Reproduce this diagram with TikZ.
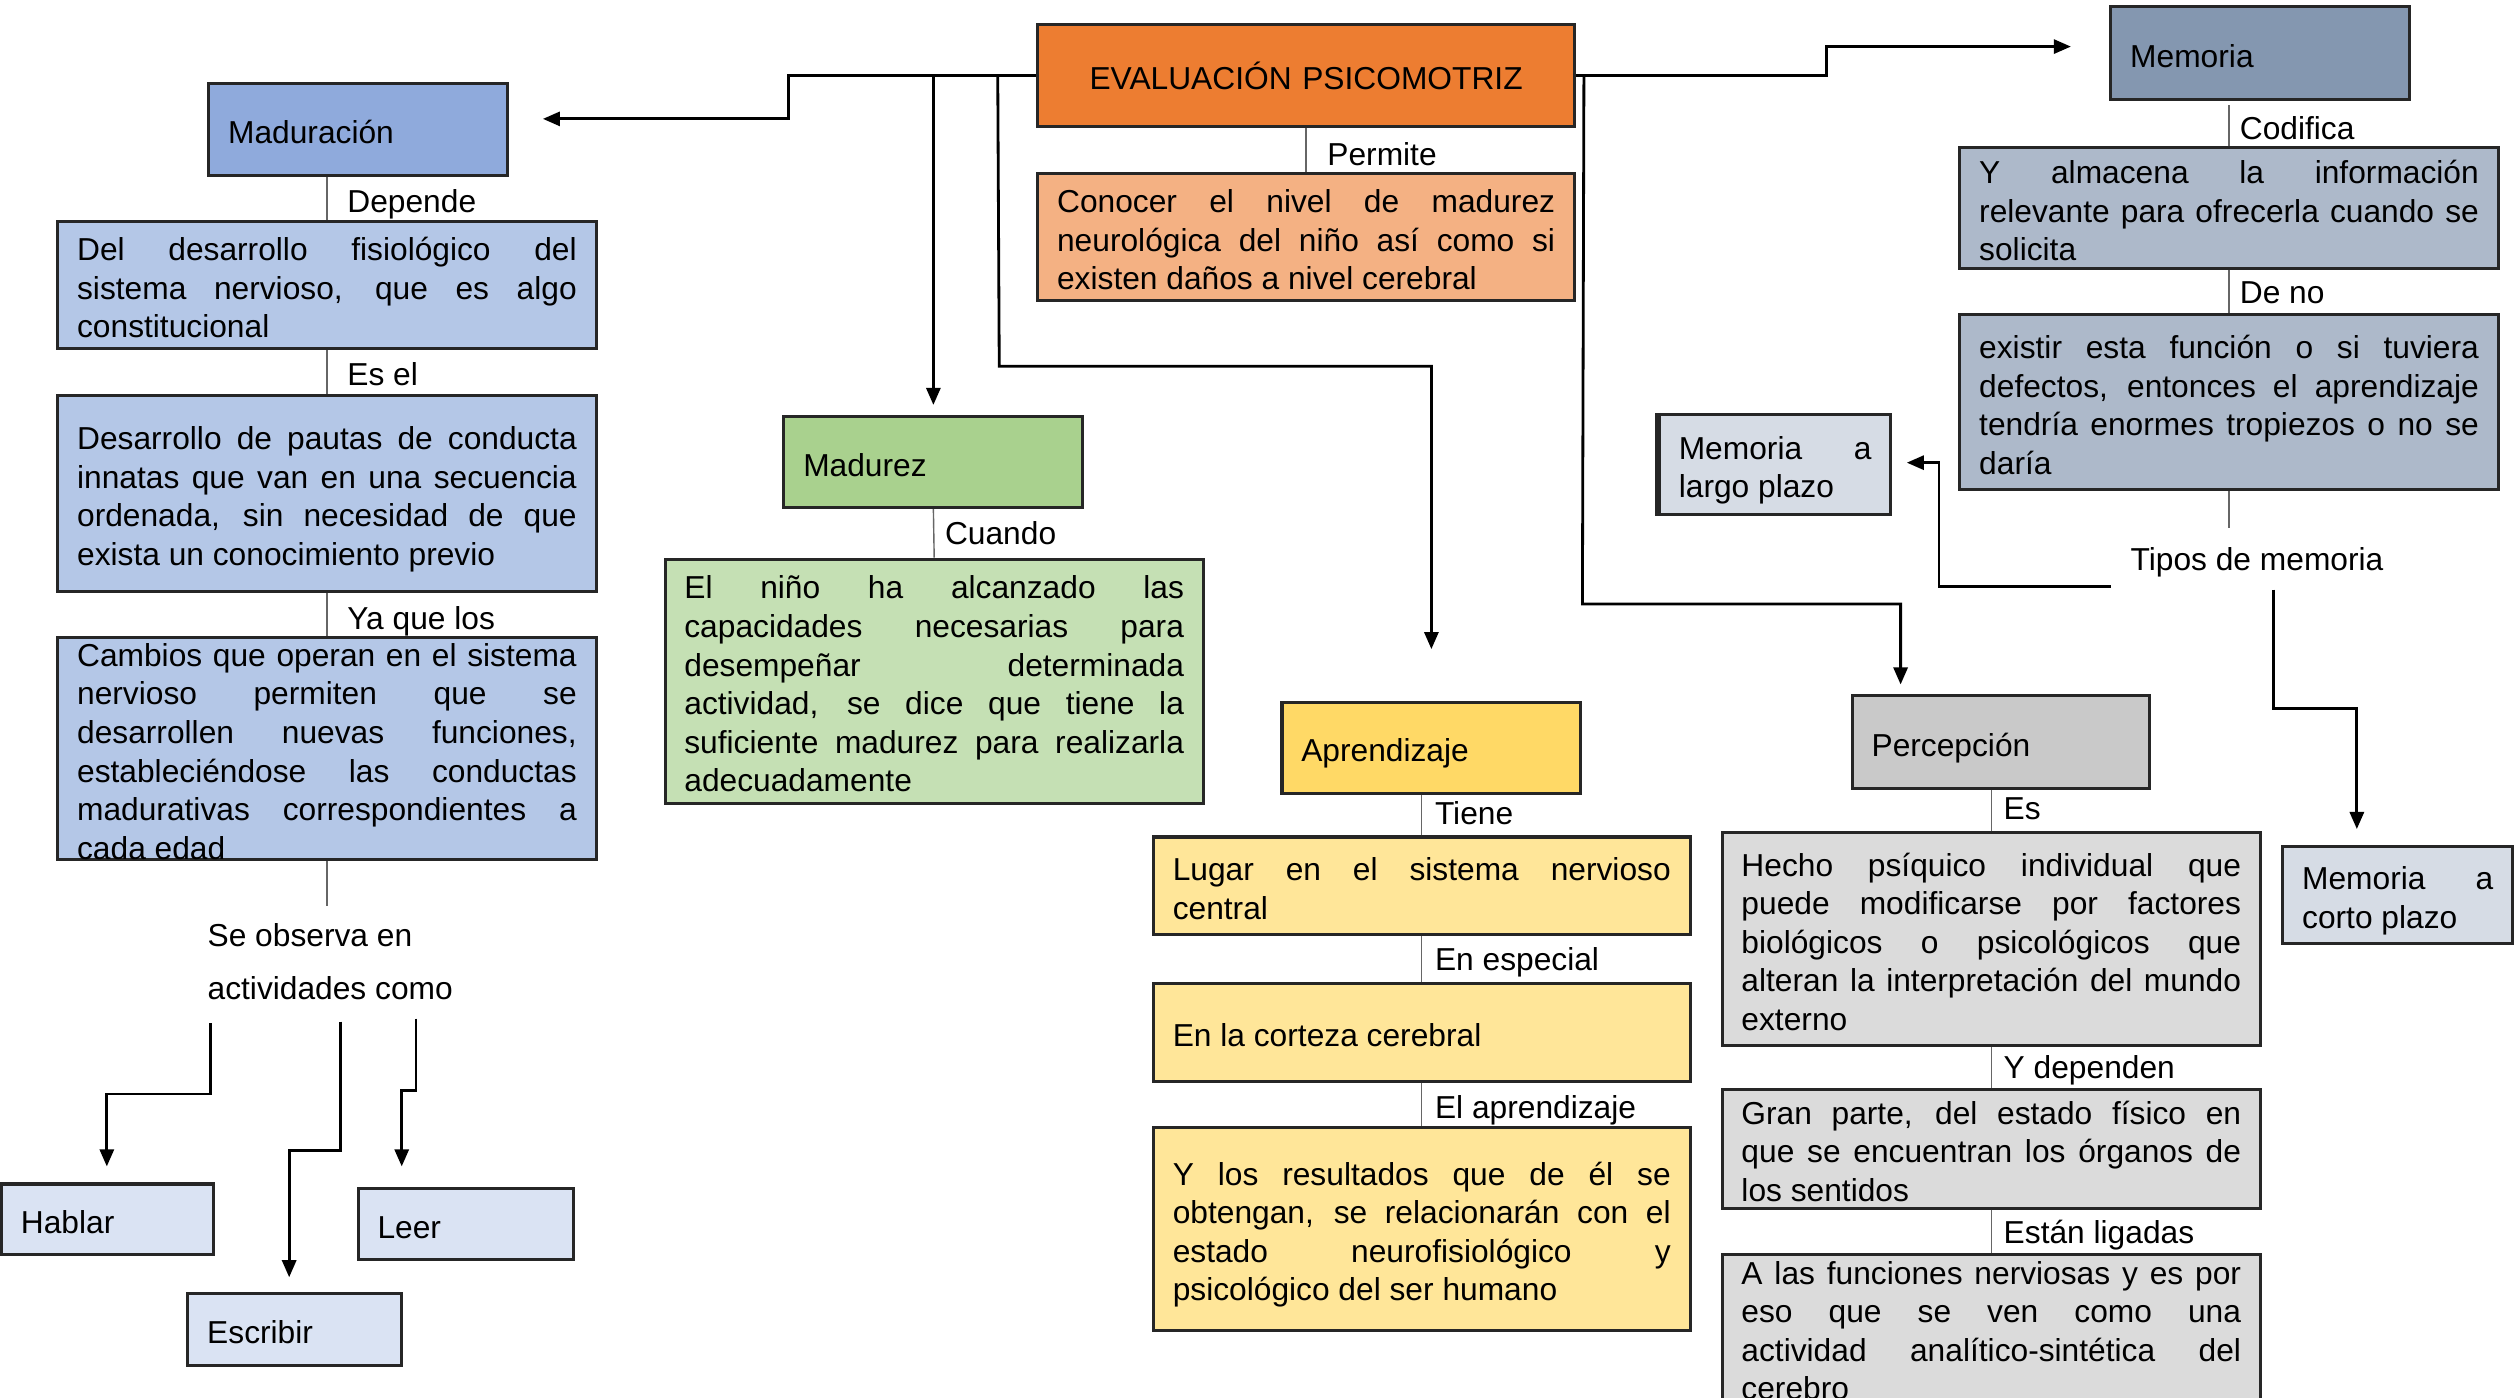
\documentclass[tikz,border=0pt]{standalone}
\usepackage{fontspec}
\setmainfont{Liberation Sans}
\usetikzlibrary{arrows.meta,calc}
\definecolor{cOrange}{HTML}{ED7D31}
\definecolor{cOrangeL}{HTML}{F4B183}
\definecolor{cBlue}{HTML}{8FAADC}
\definecolor{cBlueL}{HTML}{B4C7E7}
\definecolor{cBlueXL}{HTML}{DAE3F3}
\definecolor{cGreen}{HTML}{A9D18E}
\definecolor{cGreenL}{HTML}{C5E0B4}
\definecolor{cYellow}{HTML}{FFD966}
\definecolor{cYellowL}{HTML}{FFE699}
\definecolor{cGray}{HTML}{C9C9C9}
\definecolor{cGrayL}{HTML}{DBDBDB}
\definecolor{cSlate}{HTML}{8497B0}
\definecolor{cSlateL}{HTML}{ADB9CA}
\definecolor{cSlateXL}{HTML}{D6DCE5}
\newcommand{\mainfs}{\fontsize{15.8}{19.2}\selectfont\hyphenpenalty=10000\exhyphenpenalty=10000}
\tikzset{
  boxshape/.style={draw=black!85, line width=1.5pt, inner sep=0pt},
  boxtext/.style={inner sep=0pt, align=justify, font=\mainfs},
  conn/.style={line width=1.4pt, -{Triangle[length=8.5pt,width=7pt]}},
  thinline/.style={draw=black!60, line width=0.7pt},
  lbl/.style={anchor=west, inner sep=0pt, font=\mainfs, text height=11.5pt, text depth=3.3pt, yshift=-1.6pt},
}
\newcommand{\mkbox}[8][]{%
  \pgfmathsetmacro{\mkbw}{(#5-#3)*0.8}%
  \pgfmathsetmacro{\mkbh}{(#6-#4)*0.8}%
  \pgfmathsetmacro{\mktw}{(#5-#3-24)*0.8}%
  \node[boxshape, fill=#7, minimum width=\mkbw pt, minimum height=\mkbh pt] (#2) at ({(#3+#5)/2},{(#4+#6)/2}) {};%
  \node[boxtext, text width=\mktw pt, #1] (#2-t) at ($(#2.center)+(0,4)$) {\strut #8\strut};%
}
\begin{document}
\hyphenpenalty=10000
\exhyphenpenalty=10000
\begin{tikzpicture}[x=0.8pt, y=-0.8pt]
\useasboundingbox (0,0) rectangle (1568,870);
\fill[white] (0,0) rectangle (1568,870);

% central
\mkbox[align=center]{eval}{646}{15}{980}{79}{cOrange}{EVALUACIÓN PSICOMOTRIZ}
\mkbox{conocer}{646}{108}{980}{187}{cOrangeL}{Conocer el nivel de madurez\linebreak neurológica del niño así como si\linebreak existen daños a nivel cerebral}

% left column
\mkbox{mad}{130}{52}{316}{109}{cBlue}{Maduración}
\mkbox{del}{36}{138}{371}{217}{cBlueL}{Del desarrollo fisiológico del\linebreak sistema nervioso, que es algo\linebreak constitucional}
\mkbox{desa}{36}{246}{371}{368}{cBlueL}{Desarrollo de pautas de conducta\linebreak innatas que van en una secuencia\linebreak ordenada, sin necesidad de que\linebreak exista un conocimiento previo}
\mkbox{camb}{36}{397}{371}{535}{cBlueL}{Cambios que operan en el sistema\linebreak nervioso permiten que se\linebreak desarrollen nuevas funciones,\linebreak estableciéndose las conductas\linebreak madurativas correspondientes a\linebreak cada edad}
\mkbox{hablar}{1}{737}{133}{781}{cBlueXL}{Hablar}
\mkbox{escribir}{117}{805}{250}{850}{cBlueXL}{Escribir}
\mkbox{leer}{223}{740}{357}{784}{cBlueXL}{Leer}

% madurez
\mkbox{madurez}{488}{259}{674}{316}{cGreen}{Madurez}
\mkbox{nino}{414}{348}{749}{500}{cGreenL}{El niño ha alcanzado las\linebreak capacidades necesarias para\linebreak desempeñar determinada\linebreak actividad, se dice que tiene la\linebreak suficiente madurez para realizarla\linebreak adecuadamente}

% aprendizaje
\mkbox{aprend}{798}{437}{984}{494}{cYellow}{Aprendizaje}
\mkbox{lugar}{718}{521}{1052}{582}{cYellowL}{Lugar en el sistema nervioso\linebreak central}
\mkbox{corteza}{718}{612}{1052}{673}{cYellowL}{En la corteza cerebral}
\mkbox{ylos}{718}{702}{1052}{828}{cYellowL}{Y los resultados que de él se\linebreak obtengan, se relacionarán con el\linebreak estado neurofisiológico y\linebreak psicológico del ser humano}

% percepcion
\mkbox{percep}{1153}{433}{1338}{491}{cGray}{Percepción}
\mkbox{hecho}{1072}{518}{1407}{651}{cGrayL}{Hecho psíquico individual que\linebreak puede modificarse por factores\linebreak biológicos o psicológicos que\linebreak alteran la interpretación del mundo\linebreak externo}
\mkbox{gran}{1072}{678}{1407}{752}{cGrayL}{Gran parte, del estado físico en\linebreak que se encuentran los órganos de\linebreak los sentidos}
\mkbox{alas}{1072}{781}{1407}{872}{cGrayL}{A las funciones nerviosas y es por\linebreak eso que se ven como una\linebreak actividad analítico-sintética del\linebreak cerebro}

% memoria
\mkbox{memoria}{1314}{4}{1500}{62}{cSlate}{Memoria}
\mkbox{almac}{1220}{92}{1555}{167}{cSlateL}{Y almacena la información\linebreak relevante para ofrecerla cuando se\linebreak solicita}
\mkbox{existir}{1220}{196}{1555}{305}{cSlateL}{existir esta función o si tuviera\linebreak defectos, entonces el aprendizaje\linebreak tendría enormes tropiezos o no se\linebreak daría}
\mkbox{largo}{1033}{258}{1177}{320}{cSlateXL}{Memoria a\linebreak largo plazo}
\draw[line width=2.6pt, black!85] (largo.north west) -- (largo.south west);
\mkbox{corto}{1421}{527}{1564}{587}{cSlateXL}{Memoria a\linebreak corto plazo}

% free texts
\node[lbl] (tipos) at (1326,348) {Tipos de memoria};
\node[anchor=west, inner sep=0pt, align=left, font=\fontsize{15.8}{26.4}\selectfont] (seobs) at (129,598.5) {Se observa en\\actividades como};

% labels
\node[lbl] (lpermite) at (826,96) {Permite};
\node[lbl] (ldepende) at (216,125) {Depende};
\node[lbl] (lesel) at (216,233) {Es el};
\node[lbl] (lyaque) at (216,385) {Ya que los};
\node[lbl] (lcuando) at (588,332) {Cuando};
\node[lbl] (ltiene) at (893,506) {Tiene};
\node[lbl] (lespecial) at (893,597) {En especial};
\node[lbl] (laprend) at (893,689) {El aprendizaje};
\node[lbl] (les) at (1247,503) {Es};
\node[lbl] (ldependen) at (1247,664) {Y dependen};
\node[lbl] (lligadas) at (1247,767) {Están ligadas};
\node[lbl] (lcodifica) at (1394,80) {Codifica};
\node[lbl] (ldeno) at (1394,182) {De no};

% thin label lines
\draw[thinline] (eval.south) -- (conocer.north);
\draw[thinline] (del.north) -- (del.north |- mad.south);
\draw[thinline] (del.south) -- (desa.north);
\draw[thinline] (desa.south) -- (camb.north);
\draw[thinline] (camb.south) -- ++(0,28);
\draw[thinline] (madurez.south) -- (nino.north);
\draw[thinline] (lugar.north) -- (lugar.north |- aprend.south);
\draw[thinline] (lugar.south) -- (corteza.north);
\draw[thinline] (corteza.south) -- (ylos.north);
\draw[thinline] (hecho.north) -- (hecho.north |- percep.south);
\draw[thinline] (hecho.south) -- (gran.north);
\draw[thinline] (gran.south) -- (alas.north);
\draw[thinline] (almac.north) -- ++(0,-26);
\draw[thinline] (almac.south) -- (existir.north);
\draw[thinline] (existir.south) -- ++(0,23);

% main connectors
\draw[conn] (eval.west) -- (491,47) |- ($(mad.east)+(21,-6.5)$);
\draw[conn] (madurez.north |- eval.west) -- ($(madurez.north)+(0,-6)$);
\draw[conn] ($(eval.west)+(-24,0)$) -- (622,228) -| ($(aprend.north)+(0,-32)$);
\draw[conn] (eval.east) -- (1137,47) |- ($(memoria.west)+(-24,-4)$);
\draw[conn] ($(eval.east)+(5,0)$) -- (985,376) -| ($(percep.north west)+(31,-6)$);

% tipos de memoria
\coordinate (t1) at ($(tipos.west)+(-12,15)$);
\coordinate (t2) at ($(tipos.west)+(89,17)$);
\draw[conn] (t1) -| ($(largo.east)+(29,-1)$) -- ($(largo.east)+(9,-1)$);
\draw[conn] (t2) -- (1415,441) -| ($(corto.north west)+(47,-10)$);

% se observa
\coordinate (s1) at (131,637);
\coordinate (s2) at (212,636);
\coordinate (s3) at (259,634);
\draw[conn] (s1) -- (131,681) -| ($(hablar.north)+(-0.5,-10)$);
\draw[conn] (s2) -- (212,716) -| ($(escribir.north)+(-3.5,-9)$);
\draw[conn] (s3) -- (259,679) -| ($(leer.north west)+(28,-13)$);
\end{tikzpicture}
\end{document}
